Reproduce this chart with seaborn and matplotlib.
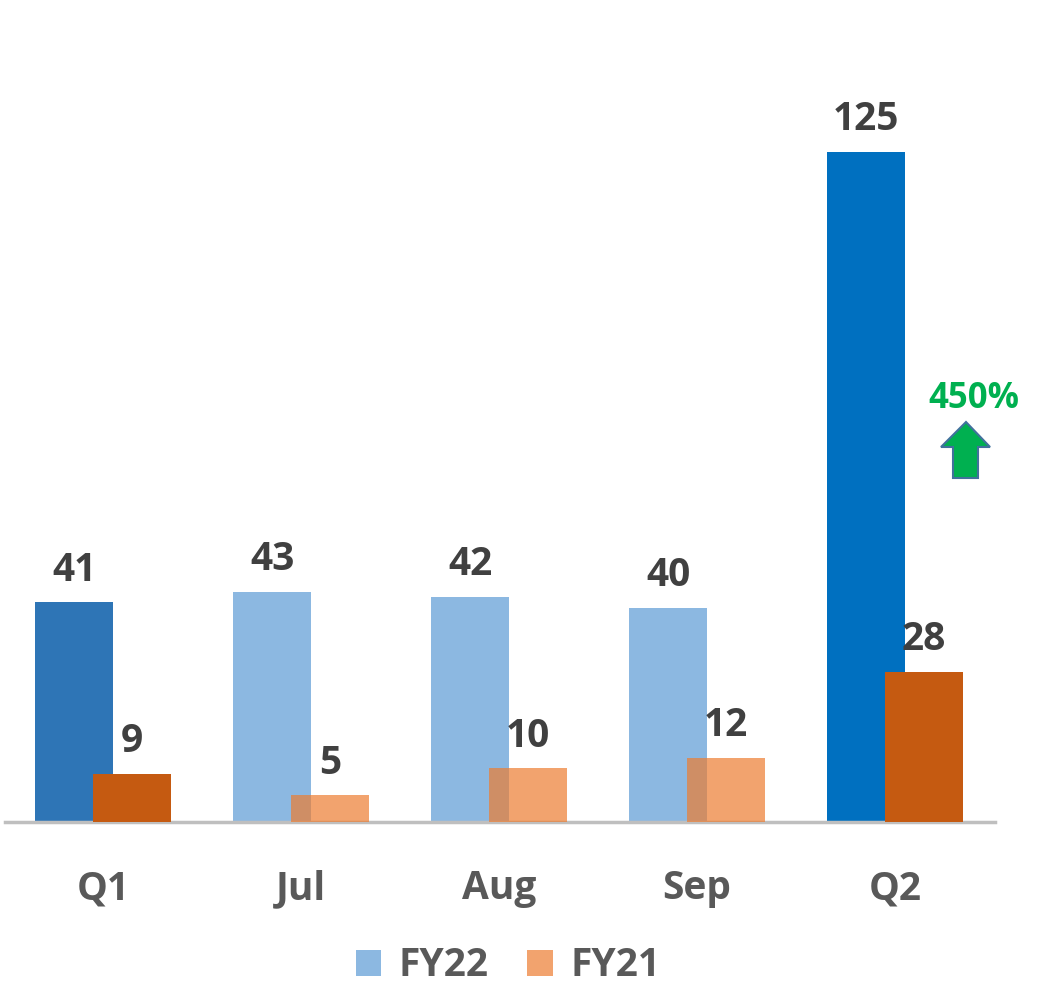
import numpy as np
import pandas as pd
import matplotlib
matplotlib.use("Agg")
import matplotlib.pyplot as plt
import seaborn as sns
from matplotlib.patches import Patch, Polygon

categories = ["Q1", "Jul", "Aug", "Sep", "Q2"]
fy22 = [41, 43, 42, 40, 125]
fy21 = [9, 5, 10, 12, 28]
series_names = ["FY22", "FY21"]
growth_label = "450%"

fy22_colors = ["#2E75B6", "#5B9BD5", "#5B9BD5", "#5B9BD5", "#0070C0"]
fy22_alpha = [1, 0.7, 0.7, 0.7, 1]
fy21_colors = ["#C55A11", "#ED7D31", "#ED7D31", "#ED7D31", "#C55A11"]
fy21_alpha = [1, 0.7, 0.7, 0.7, 1]

sns.set_theme(style="white")
plt.rcParams["font.family"] = ["Open Sans", "DejaVu Sans"]

W, H = 1037, 1008
fig = plt.figure(figsize=(W / 100, H / 100), dpi=100)
ax = fig.add_axes([5 / W, (H - 822) / H, 990 / W, 822 / H])

pos = np.arange(len(categories))
off = 0.146
bw = 0.394

df22 = pd.DataFrame({"x": pos - off, "y": fy22})
df21 = pd.DataFrame({"x": pos + off, "y": fy21})

sns.barplot(data=df22, x="x", y="y", native_scale=True, width=bw, ax=ax,
            color="#5B9BD5", errorbar=None)
n22 = len(ax.patches)
sns.barplot(data=df21, x="x", y="y", native_scale=True, width=bw, ax=ax,
            color="#ED7D31", errorbar=None)

for i, p in enumerate(ax.patches[:n22]):
    p.set_facecolor(fy22_colors[i]); p.set_alpha(fy22_alpha[i]); p.set_edgecolor("none"); p.set_zorder(2)
for i, p in enumerate(ax.patches[n22:]):
    p.set_facecolor(fy21_colors[i]); p.set_alpha(fy21_alpha[i]); p.set_edgecolor("none"); p.set_zorder(3)

for cont in ax.containers:
    ax.bar_label(cont, labels=[f"{v:g}" for v in cont.datavalues], padding=9,
                 fontsize=28, fontweight="bold", color="#404040")

ax.set_xlim(-0.495, 4.505)
ax.set_ylim(0, 822 / 5.36)
ax.set_xticks(pos)
ax.set_xticklabels(categories, fontsize=28, fontweight="bold", color="#595959")
ax.tick_params(axis="x", length=0, pad=34)
ax.set_yticks([])
ax.set_xlabel(""); ax.set_ylabel("")
for s in ["top", "right", "left"]:
    ax.spines[s].set_visible(False)
ax.spines["bottom"].set_color("#BFBFBF")
ax.spines["bottom"].set_linewidth(2.5)
ax.patch.set_alpha(0)

# growth annotation
def fx(x): return x / W
def fy(y): return 1 - y / H
arrow_px = [(941, 447), (966, 422), (990, 447), (978, 447), (978, 478), (953, 478), (953, 447)]
fig.patches.append(Polygon([(fx(x), fy(y)) for x, y in arrow_px], closed=True,
                           transform=fig.transFigure, facecolor="#00B050",
                           edgecolor="#41719C", linewidth=1.5))
fig.text(fx(974), fy(399), growth_label, ha="center", va="center", fontsize=25,
         fontweight="bold", color="#00B050")

handles = [Patch(facecolor="#5B9BD5", alpha=0.7, edgecolor="none"),
           Patch(facecolor="#ED7D31", alpha=0.7, edgecolor="none")]
leg = fig.legend(handles, series_names, loc="center", bbox_to_anchor=(fx(508), fy(966)),
                 ncol=2, frameon=False, fontsize=28, handlelength=0.65, handleheight=0.65,
                 handletextpad=0.45, columnspacing=1.0)
for t in leg.get_texts():
    t.set_color("#595959"); t.set_fontweight("bold")

fig.savefig("out.png", dpi=100)
